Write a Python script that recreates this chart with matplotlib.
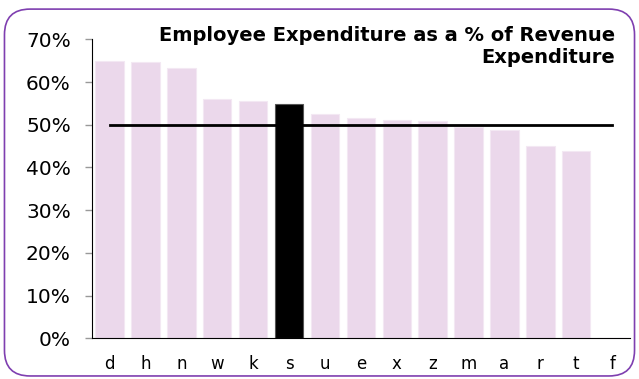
import matplotlib
matplotlib.use("Agg")
import matplotlib.pyplot as plt
from matplotlib.patches import FancyBboxPatch
from matplotlib.ticker import PercentFormatter

# categories, share of revenue spend (%), highlighted unit and reference level
categories = ['d', 'h', 'n', 'w', 'k', 's', 'u', 'e', 'x', 'z', 'm', 'a', 'r', 't', 'f']
values = [65.0, 64.7, 63.2, 56.0, 55.5, 54.9, 52.4, 51.6, 51.2, 50.9, 49.5, 48.7, 45.1, 43.9, 0.0]
highlight = 's'
benchmark = [50.0] * len(categories)
yticks = [0, 10, 20, 30, 40, 50, 60, 70]

plt.rcParams['font.family'] = ['DejaVu Sans']

fig = plt.figure(figsize=(6.39, 3.79), dpi=100, facecolor='white')
ax = fig.add_axes([0.1435, 0.1074, 0.8425, 0.7889])

# rounded purple frame around the whole chart
frame = FancyBboxPatch((0.007, 0.008), 0.986, 0.968,
                       boxstyle='round,pad=0,rounding_size=0.04',
                       transform=fig.transFigure, facecolor='none',
                       edgecolor='#7F3FB0', linewidth=1.2,
                       mutation_aspect=639 / 379, zorder=0)
fig.patches.append(frame)

x = range(len(categories))
colors = ['black' if c == highlight else '#EBD8EB' for c in categories]
edges = ['#555555' if c == highlight else '#F3E8F3' for c in categories]
ax.bar(x, values, width=0.79, color=colors, edgecolor=edges, linewidth=0.8, zorder=2)
ax.plot(x, benchmark, color='black', linewidth=2, zorder=3)

ax.set_xlim(-0.5, len(categories) - 0.5)
ax.set_ylim(0, 70)
ax.set_yticks(yticks)
ax.yaxis.set_major_formatter(PercentFormatter(decimals=0))
ax.set_xticks(list(x))
ax.set_xticklabels(categories)

ax.tick_params(axis='y', labelsize=14.5, length=5, width=1, color='#999999', pad=10)
ax.tick_params(axis='x', labelsize=12, length=0, pad=12)

for side in ['top', 'right']:
    ax.spines[side].set_visible(False)
ax.spines['left'].set_color('black')
ax.spines['bottom'].set_color('black')

ax.text(0.972, 1.045, 'Employee Expenditure as a % of Revenue\nExpenditure',
        transform=ax.transAxes, ha='right', va='top', fontsize=14,
        fontweight='bold', linespacing=1.2, zorder=4)

fig.savefig('out.png', dpi=100, facecolor='white')
